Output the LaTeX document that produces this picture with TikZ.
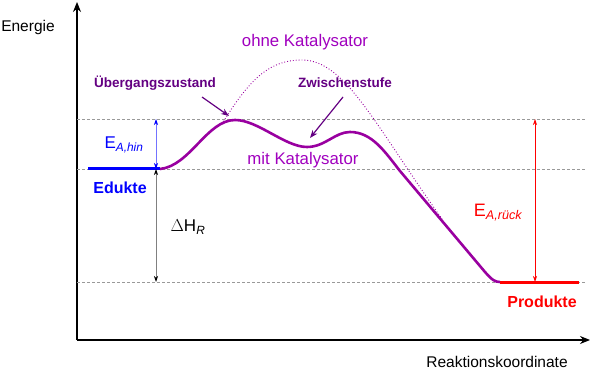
\documentclass[tikz,border=0pt]{standalone}
\usepackage{fontspec}
\setmainfont{Liberation Sans}
\usetikzlibrary{arrows.meta}
\definecolor{curvecol}{RGB}{153,0,160}
\definecolor{labcol}{RGB}{100,0,130}
\definecolor{katcol}{RGB}{160,0,190}
\definecolor{eablue}{RGB}{0,0,255}
\definecolor{eared}{RGB}{255,0,0}
\tikzset{
  axis/.style={line width=1.2pt,-{Stealth[length=10pt,width=8pt]}},
  level/.style={draw=gray!80,dash pattern=on 3pt off 2pt,line width=0.8pt},
  lbl/.style={font=\fontsize{15.5}{17}\selectfont,inner sep=0pt},
  katlbl/.style={font=\fontsize{16.8}{18}\selectfont,inner sep=0pt,text=katcol},
  bigbold/.style={font=\fontsize{16}{18}\selectfont\bfseries,inner sep=0pt},
  smbold/.style={font=\fontsize{13.5}{15}\selectfont\bfseries,inner sep=0pt,text=labcol},
  pointer/.style={draw=labcol,line width=1.2pt,-{Stealth[length=8pt,width=6pt]}},
  dim/.style={line width=0.7pt,{Stealth[length=6pt,width=4pt]}-{Stealth[length=6pt,width=4pt]}},
}
\begin{document}
\begin{tikzpicture}[x=1pt,y=-1pt]
\useasboundingbox (0,0) rectangle (591,371);
% axes
\coordinate (O) at (77,340);
\coordinate (ytop) at (77,2);
\coordinate (xend) at (590,340);
\draw[axis] (O) -- (ytop);
\draw[axis] (O) -- (xend);
\node[lbl] (energie) at (28,27) {Energie};
\node[lbl] (rk) at (497,362) {Reaktionskoordinate};
% dashed levels
\coordinate (d1a) at (77,119); \coordinate (d1b) at (585,119);
\coordinate (d2a) at (77,169); \coordinate (d2b) at (585,169);
\coordinate (d3a) at (77,282); \coordinate (d3b) at (585,282);
\draw[level] (d1a) -- (d1b);
\draw[level] (d2a) -- (d2b);
\draw[level] (d3a) -- (d3b);
% levels
\coordinate (eda) at (88,169); \coordinate (edb) at (160,169);
\coordinate (pra) at (500,282); \coordinate (prb) at (579,282);
\draw[eablue,line width=3pt] (eda) -- (edb);
\draw[eared,line width=3pt] (pra) -- (prb);
\node[bigbold,text=eablue] (edukte) at (120,188) {Edukte};
\node[bigbold,text=eared] (produkte) at (542,302) {Produkte};
% catalysed curve
\draw[curvecol,line width=2.6pt,line join=round]
  (edb) .. controls (190,166) and (207,120) .. (235,120)
  .. controls (258,120) and (285,147) .. (307,147)
  .. controls (325,147) and (335,132) .. (350,132)
  .. controls (372,132) and (385,152) .. (400,171)
  -- (485,272) .. controls (492,280) and (495,282) .. (pra);
% uncatalysed curve
\coordinate (u0) at (222,124);
\coordinate (u1) at (302,60);
\coordinate (u2) at (442,219);
\draw[curvecol,line width=0.9pt,dotted]
  (u0) .. controls (250,78) and (270,60) .. (u1)
  .. controls (345,60) and (375,125) .. (u2);
% labels
\node[katlbl] (ohne) at (305,42) {ohne Katalysator};
\node[katlbl] (mit) at (303,160) {mit Katalysator};
\node[smbold] (ueb) at (155,83) {Übergangszustand};
\node[smbold] (zw) at (345,83) {Zwischenstufe};
\coordinate (uebtip) at (229,116);
\coordinate (zwtip) at (310,138);
\draw[pointer] (202,97) -- (uebtip);
\draw[pointer] (343,97) -- (zwtip);
% dimension arrows
\coordinate (h1) at (156,119); \coordinate (h2) at (156,169); \coordinate (h3) at (156,282);
\coordinate (r1) at (535,119); \coordinate (r2) at (535,282);
\draw[dim,draw=eablue!55,{Stealth[length=6pt,width=4pt,fill=eablue,color=eablue]}-{Stealth[length=6pt,width=4pt,fill=eablue,color=eablue]}] (h1) -- (h2);
\draw[dim,draw=gray,{Stealth[length=6pt,width=4pt,fill=black,color=black]}-{Stealth[length=6pt,width=4pt,fill=black,color=black]}] (h2) -- (h3);
\draw[dim,draw=eared] (r1) -- (r2);
\node[lbl,text=eablue,font=\fontsize{17}{19}\selectfont] (eahin) at (124,145) {E\textsubscript{\itshape A,hin}};
\node[lbl,font=\fontsize{17}{19}\selectfont] (dh) at (188,227) {$\Delta$H\textsubscript{\itshape R}};
\node[lbl,text=eared,font=\fontsize{18}{20}\selectfont] (earueck) at (498,213) {E\textsubscript{\itshape A,rück}};
\end{tikzpicture}
\end{document}
